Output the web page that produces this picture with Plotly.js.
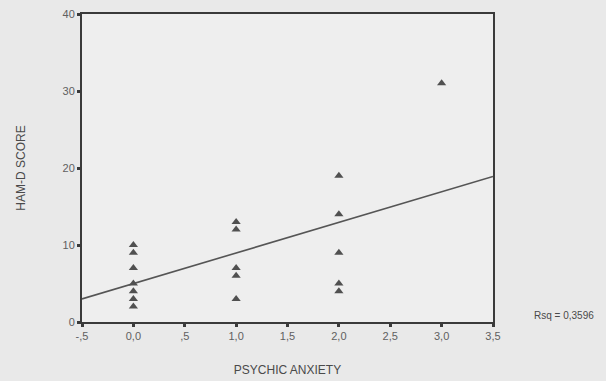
<!DOCTYPE html>
<html><head><meta charset="utf-8">
<script src="https://cdn.plot.ly/plotly-3.0.1.min.js"></script>
<style>html,body{margin:0;padding:0;background:#e9e9e9}</style>
</head><body>
<div id="chart" style="width:606px;height:381px"></div>
<script>
const anxietyX = [0,0,0,0,0,0,0, 1,1,1,1,1, 2,2,2,2,2, 3];
const hamdY    = [10,9,7,5,4,3,2, 13,12,7,6,3, 19,14,9,5,4, 31];
const fitX = [-0.5, 3.5];
const fitY = [3.0, 18.9];
const xTickVals = [-0.5,0,0.5,1,1.5,2,2.5,3,3.5];
const xTickText = ["-,5","0,0",",5","1,0","1,5","2,0","2,5","3,0","3,5"];
const yTickVals = [0,10,20,30,40];
const rsqText = "Rsq = 0,3596";

const data = [
  {x: fitX, y: fitY, mode: 'lines', line: {color: '#555', width: 1.6}, hoverinfo: 'skip', showlegend: false},
  {x: anxietyX, y: hamdY, mode: 'markers', marker: {symbol: 'triangle-up', size: 8, color: '#505050'}, showlegend: false}
];
const layout = {
  width: 606, height: 381,
  margin: {l: 82, r: 113, t: 14, b: 59},
  paper_bgcolor: '#e9e9e9', plot_bgcolor: '#eeeeee',
  font: {family: 'Liberation Sans, Arial, sans-serif', color: '#555'},
  xaxis: {range: [-0.5, 3.5], tickvals: xTickVals, ticktext: xTickText,
    showgrid: false, zeroline: false, showline: true, mirror: true,
    linecolor: '#3a3a3a', linewidth: 2, ticks: 'outside', ticklen: 3, tickwidth: 3, tickcolor: '#3a3a3a',
    tickfont: {size: 11, color: '#606060'},
    title: {text: 'PSYCHIC ANXIETY', font: {size: 12, color: '#4a4a4a'}, standoff: 24}},
  yaxis: {range: [0, 40], tickvals: yTickVals,
    showgrid: false, zeroline: false, showline: true, mirror: true,
    linecolor: '#3a3a3a', linewidth: 2, ticks: 'outside', ticklen: 3, tickwidth: 3, tickcolor: '#3a3a3a',
    tickfont: {size: 11, color: '#606060'},
    title: {text: 'HAM-D SCORE', font: {size: 12, color: '#4a4a4a'}, standoff: 34}},
  annotations: [{text: rsqText, xref: 'paper', yref: 'paper', x: 1.095, y: 0.02,
    xanchor: 'left', yanchor: 'middle', showarrow: false, font: {size: 10, color: '#4a4a4a'}}]
};
Plotly.newPlot('chart', data, layout, {displayModeBar: false, staticPlot: true});
</script>
</body></html>
